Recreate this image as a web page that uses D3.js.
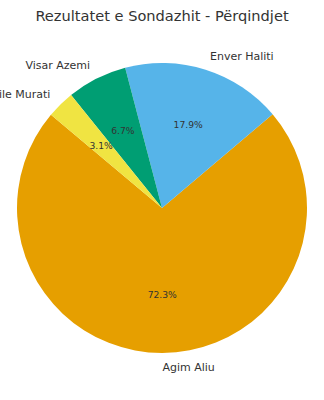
<!DOCTYPE html>
<html>
<head>
<meta charset="utf-8">
<script src="https://cdn.jsdelivr.net/npm/d3@7"></script>
<style>
  body { margin: 0; background: #fff; }
  svg { display: block; font-family: "DejaVu Sans", sans-serif; }
</style>
</head>
<body>
<div id="chart"></div>
<script>
// poll results, in drawing order
var candidates = ["Agim Aliu", "Enver Haliti", "Visar Azemi", "Qamile Murati"];
var shares = [72.3, 17.9, 6.7, 3.1];
var colors = ["#E69F00", "#56B4E9", "#009E73", "#F0E442"];

var width = 324, height = 400;
var cx = 162, cy = 208, radius = 145;
var startDeg = 140; // counter-clockwise from 3 o'clock, like matplotlib

var svg = d3.select("#chart").append("svg")
    .attr("width", width)
    .attr("height", height);

svg.append("text")
    .attr("x", width / 2)
    .attr("y", 21)
    .attr("text-anchor", "middle")
    .style("font-size", "14.6px")
    .attr("fill", "#333")
    .text("Rezultatet e Sondazhit - Përqindjet");

var data = candidates.map(function(c, i) {
    return {name: c, value: shares[i], color: colors[i]};
});

// d3 angles run clockwise from 12 o'clock
var a0 = (90 - startDeg) * Math.PI / 180;
var pie = d3.pie()
    .sort(null)
    .value(function(d) { return d.value; })
    .startAngle(a0)
    .endAngle(a0 - 2 * Math.PI);

var arc = d3.arc().innerRadius(0).outerRadius(radius);

var g = svg.append("g")
    .attr("transform", "translate(" + cx + "," + cy + ")");

var slices = pie(data);

g.selectAll("path")
    .data(slices)
    .enter().append("path")
    .attr("d", arc)
    .attr("fill", function(d) { return d.data.color; });

function mid(d) { return (d.startAngle + d.endAngle) / 2; }

// outer name labels
g.selectAll("text.name")
    .data(slices)
    .enter().append("text")
    .attr("class", "name")
    .attr("x", function(d) { return Math.sin(mid(d)) * radius * 1.1; })
    .attr("y", function(d) { return -Math.cos(mid(d)) * radius * 1.1; })
    .attr("dy", "0.35em")
    .attr("text-anchor", function(d) { return Math.sin(mid(d)) > 0 ? "start" : "end"; })
    .style("font-size", "11px")
    .attr("fill", "#333")
    .text(function(d) { return d.data.name; });

// percentages inside
g.selectAll("text.pct")
    .data(slices)
    .enter().append("text")
    .attr("class", "pct")
    .attr("x", function(d) { return Math.sin(mid(d)) * radius * 0.6; })
    .attr("y", function(d) { return -Math.cos(mid(d)) * radius * 0.6; })
    .attr("dy", "0.35em")
    .attr("text-anchor", "middle")
    .style("font-size", "9.2px")
    .attr("fill", "#333")
    .text(function(d) { return d.data.value.toFixed(1) + "%"; });
</script>
</body>
</html>
